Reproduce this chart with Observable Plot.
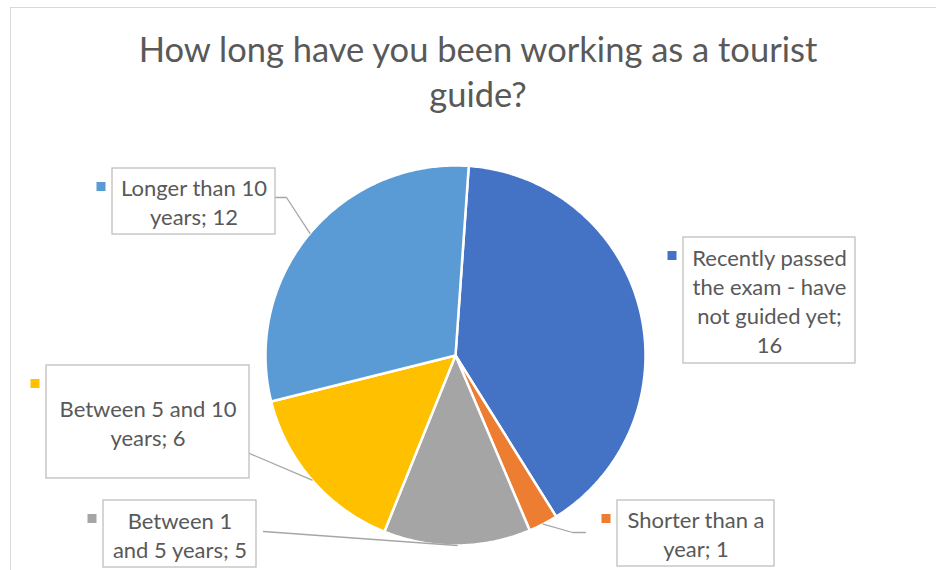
<!DOCTYPE html>
<html><head><meta charset="utf-8">
<script src="https://cdn.jsdelivr.net/npm/d3@7"></script>
<script src="https://cdn.jsdelivr.net/npm/@observablehq/plot@0.6"></script>
<style>
body{margin:0;background:#fff;overflow:hidden;width:936px;height:570px;position:relative;font-family:Lato,sans-serif}
#frame{position:absolute;left:10px;top:7px;width:1000px;height:700px;border-left:1.5px solid #d9d9d9;border-top:1.5px solid #d9d9d9;box-sizing:border-box}
#title{position:absolute;left:10px;top:0;width:936px;text-align:center;color:#595959;font-size:34.5px;line-height:45px;padding-top:26px}
#chart{position:absolute;left:0;top:140px}
</style></head><body>
<div id="frame"></div>
<div id="title">How long have you been working as a tourist<br>guide?</div>
<div id="chart"></div>
<script>
// ---- data ----
const categories = ["Recently passed the exam - have not guided yet","Shorter than a year","Between 1 and 5 years","Between 5 and 10 years","Longer than 10 years"];
const values = [16, 1, 5, 6, 12];
const labelText = ["Recently passed\nthe exam - have\nnot guided yet;\n16", "Shorter than a\nyear; 1", "Between 1\nand 5 years; 5", "Between 5 and 10\nyears; 6", "Longer than 10\nyears; 12"];
const colors = ["#4472C4","#ED7D31","#A5A5A5","#FFC000","#5B9BD5"];

// ---- layout ----
const W = 936, H = 430;
const R = 190;            // pie radius in px
const cx = 455, cy = 215; // pie centre in px within the svg
const startAngle = 4;     // degrees, first slice angle
// label boxes: centre offset from pie centre (px, y down), size (px)
const labelBoxes = [
  {dx: 314,    dy: -55,   w: 172, h: 126},
  {dx: 240.5,  dy: 178,   w: 157, h: 66},
  {dx: -275.5, dy: 178.5, w: 153, h: 67},
  {dx: -307.5, dy: 66.5,  w: 203, h: 113},
  {dx: -261.5, dy: -154,  w: 163, h: 66}
];
// leader line start/bend points (px offsets from pie centre, y down); empty = no leader
const leaderBends = [[], [[130,177],[117,177]], [[-192,176]], [[-206,98]], [[-180,-158],[-169,-158]]];
const keySize = 9, keyGap = 11, keyTop = 18.5;

// ---- derived ----
const a0 = startAngle * Math.PI / 180;
const arcs = d3.pie().sort(null).value(d => d).startAngle(a0).endAngle(a0 + 2 * Math.PI)(values);
const slicePts = [];
arcs.forEach((a, i) => {
  slicePts.push({cat: categories[i], x: 0, y: 0});
  const n = Math.max(2, Math.ceil((a.endAngle - a.startAngle) / 0.01));
  for (let k = 0; k <= n; k++) {
    const t = a.startAngle + (a.endAngle - a.startAngle) * k / n;
    slicePts.push({cat: categories[i], x: Math.sin(t), y: Math.cos(t)});
  }
});
const u = v => v / R;
const boxes = labelBoxes.map((b, i) => ({
  cat: categories[i], text: labelText[i],
  x: u(b.dx), y: -u(b.dy),
  x1: u(b.dx - b.w / 2), x2: u(b.dx + b.w / 2),
  y1: -u(b.dy - b.h / 2), y2: -u(b.dy + b.h / 2)
}));
const keys = labelBoxes.map((b, i) => {
  const kx = b.dx - b.w / 2 - keyGap, ky = b.dy - b.h / 2 + keyTop;
  return {cat: categories[i], x1: u(kx - keySize / 2), x2: u(kx + keySize / 2), y1: -u(ky - keySize / 2), y2: -u(ky + keySize / 2)};
});
const leaderPts = [];
leaderBends.forEach((pts, i) => {
  if (!pts.length) return;
  pts.forEach(p => leaderPts.push({id: i, x: u(p[0]), y: -u(p[1])}));
  const mid = (arcs[i].startAngle + arcs[i].endAngle) / 2;
  leaderPts.push({id: i, x: Math.sin(mid), y: Math.cos(mid)});
});

const chart = Plot.plot({
  width: W, height: H, margin: 0,
  style: {fontFamily: "Lato, sans-serif", background: "transparent"},
  x: {domain: [-cx / R, (W - cx) / R], axis: null},
  y: {domain: [-(H - cy) / R, cy / R], axis: null},
  color: {domain: categories, range: colors},
  marks: [
    Plot.line(slicePts, {x: "x", y: "y", z: "cat", fill: "cat", stroke: "white", strokeWidth: 2.5, curve: "linear-closed"}),
    Plot.line(leaderPts, {x: "x", y: "y", z: "id", stroke: "#a6a6a6", strokeWidth: 1.3}),
    Plot.rect(boxes, {x1: "x1", x2: "x2", y1: "y1", y2: "y2", fill: "white", stroke: "#bfbfbf", strokeWidth: 1.3}),
    Plot.rect(keys, {x1: "x1", x2: "x2", y1: "y1", y2: "y2", fill: "cat"}),
    Plot.text(boxes, {x: "x", y: "y", text: "text", fontSize: 22, lineHeight: 1.32, fill: "#595959", fontFamily: "Lato, sans-serif"})
  ]
});
document.getElementById("chart").appendChild(chart);
</script>
</body></html>
